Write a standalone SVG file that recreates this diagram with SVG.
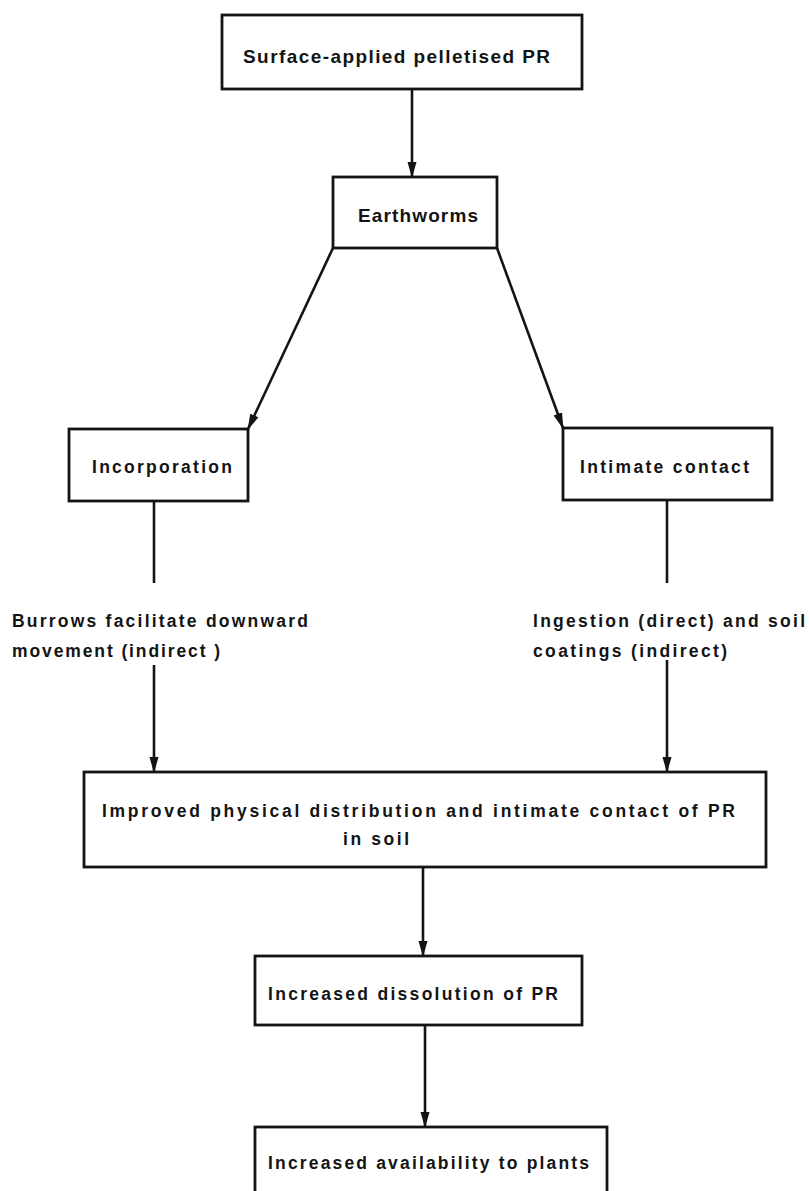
<svg xmlns="http://www.w3.org/2000/svg" width="809" height="1191" viewBox="0 0 809 1191">
<defs>
<style>
.box{fill:#fff;stroke:#141414;stroke-width:2.8}
.t{font-family:"Liberation Sans",Arial,sans-serif;font-weight:bold;font-size:17.5px;fill:#141414}
.big{font-size:19px}
.ln{stroke:#141414;stroke-width:2.6;fill:none}
</style>
<marker id="ah" markerUnits="userSpaceOnUse" markerWidth="16" markerHeight="10" refX="15" refY="4.5" orient="auto" viewBox="0 0 16 9">
<path d="M0,0 L16,4.5 L0,9 Z" fill="#141414"/>
</marker>
</defs>
<rect width="809" height="1191" fill="#fff"/>
<g id="connectors">
<line class="ln" x1="412" y1="89" x2="412" y2="177" marker-end="url(#ah)"/>
<line class="ln" x1="333" y1="248" x2="248" y2="429" marker-end="url(#ah)"/>
<line class="ln" x1="497" y1="248" x2="563" y2="428" marker-end="url(#ah)"/>
<line class="ln" x1="154" y1="501" x2="154" y2="583"/>
<line class="ln" x1="667" y1="500" x2="667" y2="583"/>
<line class="ln" x1="154" y1="665" x2="154" y2="772" marker-end="url(#ah)"/>
<line class="ln" x1="667" y1="660" x2="667" y2="772" marker-end="url(#ah)"/>
<line class="ln" x1="423" y1="867" x2="423" y2="956" marker-end="url(#ah)"/>
<line class="ln" x1="425" y1="1025" x2="425" y2="1127" marker-end="url(#ah)"/>
</g>
<g id="n1">
<rect class="box" x="222" y="15" width="360" height="74"/>
<text class="t big" x="243" y="63" textLength="307" lengthAdjust="spacing">Surface-applied pelletised PR</text>
</g>
<g id="n2">
<rect class="box" x="333" y="177" width="164" height="71"/>
<text class="t big" x="358" y="222" textLength="120" lengthAdjust="spacing">Earthworms</text>
</g>
<g id="n3">
<rect class="box" x="69" y="429" width="179" height="72"/>
<text class="t" x="92" y="473" textLength="140" lengthAdjust="spacing">Incorporation</text>
</g>
<g id="n4">
<rect class="box" x="563" y="428" width="209" height="72"/>
<text class="t" x="580" y="473" textLength="169" lengthAdjust="spacing">Intimate contact</text>
</g>
<g id="n5">
<text class="t" x="12" y="627" textLength="296" lengthAdjust="spacing">Burrows facilitate  downward</text>
<text class="t" x="12" y="657" textLength="208" lengthAdjust="spacing">movement (indirect )</text>
</g>
<g id="n6">
<text class="t" x="533" y="627" textLength="272" lengthAdjust="spacing">Ingestion  (direct) and soil</text>
<text class="t" x="533" y="657" textLength="194" lengthAdjust="spacing">coatings  (indirect)</text>
</g>
<g id="n7">
<rect class="box" x="84" y="772" width="682" height="95"/>
<text class="t" x="102" y="817" textLength="633" lengthAdjust="spacing">Improved physical distribution and  intimate contact  of  PR</text>
<text class="t" x="343" y="845" textLength="66" lengthAdjust="spacing">in soil</text>
</g>
<g id="n8">
<rect class="box" x="255" y="956" width="327" height="69"/>
<text class="t" x="268" y="1000" textLength="290" lengthAdjust="spacing">Increased  dissolution  of  PR</text>
</g>
<g id="n9">
<rect class="box" x="255" y="1127" width="352" height="80"/>
<text class="t" x="268" y="1169" textLength="321" lengthAdjust="spacing">Increased availability to plants</text>
</g>
</svg>
